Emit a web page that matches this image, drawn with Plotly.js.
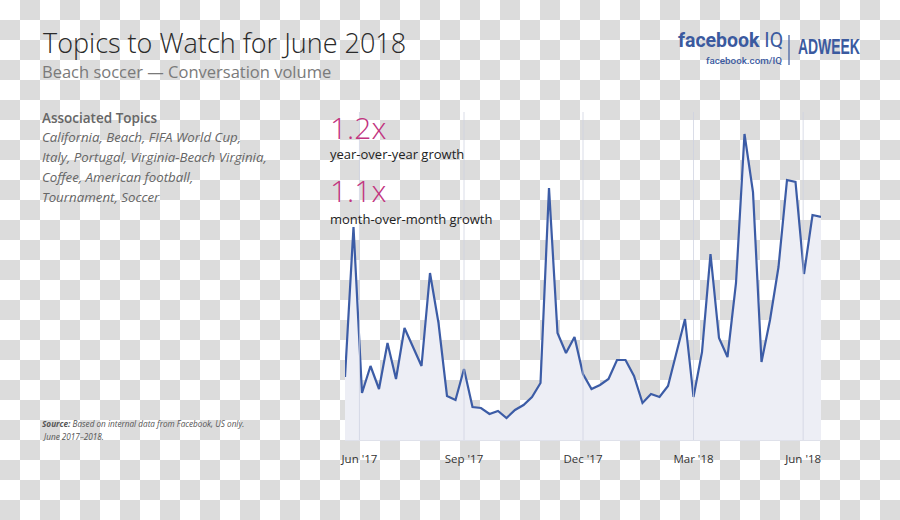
<!DOCTYPE html>
<html>
<head>
<meta charset="utf-8">
<script src="https://cdn.plot.ly/plotly-3.0.1.min.js"></script>
<style>
  html, body { margin: 0; padding: 0; background: #fff; }
  #chart { width: 900px; height: 520px; }
</style>
</head>
<body>
<div id="chart"></div>
<script>
// Weekly conversation volume (relative index), June 2017 – June 2018
const volume = [63, 213, 47, 74, 51, 97, 61, 112, 93, 74,
                167, 117, 44, 40, 71, 33, 32, 26, 29, 22,
                30, 35, 43, 57, 252, 107, 87, 103, 66, 51,
                55, 61, 80, 80, 64, 37, 46, 43, 54, 87,
                121, 43, 88, 186, 102, 83, 157, 306, 248, 78,
                120, 173, 260, 258, 166, 225, 223];
const weekIndex = volume.map((_, i) => i);

const tickLabels = ["Jun '17", "Sep '17", "Dec '17", "Mar '18", "Jun '18"];
const tickWeeks = [1.7, 14, 28, 41, 53.9];

const topicsHeader = "Associated Topics";
const topicLines = ["California, Beach, FIFA World Cup,",
                    "Italy, Portugal, Virginia-Beach Virginia,",
                    "Coffee, American football,",
                    "Tournament, Soccer"];
const growthValues = ["1.2x", "1.1x"];
const growthLabels = ["year-over-year growth", "month-over-month growth"];

// plot-area geometry (pixels)
const L = 345, R = 79, T = 112, B = 80, W = 900 - L - R, H = 520 - T - B;
const px = x => (x - L) / W;
const py = y => (520 - B - y) / H;

const FONT = "Open Sans, Noto Sans, sans-serif";
const ann = [];
function txt(x, y, text, font, extra) {
  ann.push(Object.assign({
    xref: 'paper', yref: 'paper', x: px(x), y: py(y), text: text,
    showarrow: false, xanchor: 'left', yanchor: 'middle',
    font: Object.assign({ family: FONT }, font)
  }, extra || {}));
}

txt(41, 42, "Topics to Watch for June 2018", { size: 27, color: '#2a2a2a', weight: 300 });
txt(40, 71, "Beach soccer — Conversation volume", { size: 16.5, color: '#7a7a7a' });
txt(40, 118, topicsHeader, { size: 13.5, color: '#666', weight: 600 });
topicLines.forEach((t, i) => txt(40, 137 + i * 20, t, { size: 13.3, color: '#666', style: 'italic' }));
txt(40, 423, "<b>Source:</b> Based on internal data from Facebook, US only.", { size: 8.2, color: '#555', style: 'italic' });
txt(40, 436, "June 2017–2018.", { size: 8.2, color: '#555', style: 'italic' });

growthValues.forEach((g, i) => {
  txt(328, 127 + i * 63, g, { size: 30, color: '#c2347f', weight: 300 });
  txt(328, 154 + i * 65, growthLabels[i], { size: 13, color: '#222' });
});

// logo
txt(676, 40, "<b>facebook</b> IQ", { family: "Roboto, sans-serif", size: 19.5, color: '#3b5a9f' });
txt(704, 61, "facebook.com/IQ", { family: "Roboto, sans-serif", size: 9.8, color: '#3b5a9f', weight: 500 });
txt(829, 47, "ADWEEK", { family: "Liberation Sans, Arial, sans-serif", size: 22, color: '#3b5a9f', weight: 700 }, { xanchor: 'center' });

// checkerboard backdrop (transparent-canvas pattern of the reference)
const shapes = [];
for (let r = 0; r < 26; r++) {
  for (let c = 0; c < 45; c++) {
    if ((r + c) % 2 === 1) {
      shapes.push({
        type: 'rect', xref: 'paper', yref: 'paper',
        x0: px(c * 20), x1: px(c * 20 + 20), y0: py(r * 20 + 20), y1: py(r * 20),
        fillcolor: '#dcdcdc', line: { width: 0 }, layer: 'below'
      });
    }
  }
}
tickWeeks.forEach(t => shapes.push({
  type: 'line', xref: 'x', yref: 'paper', x0: t, x1: t, y0: 0, y1: 1,
  layer: 'above', line: { color: 'rgba(205,210,224,0.75)', width: 1 }
}));
shapes.push({
  type: 'line', xref: 'paper', yref: 'paper', x0: px(789), x1: px(789), y0: py(35), y1: py(65),
  line: { color: '#3b5a9f', width: 1.2 }
});

const data = [{
  x: weekIndex, y: volume, type: 'scatter', mode: 'lines',
  fill: 'tozeroy', fillcolor: '#edeef5',
  line: { color: '#3c5ca6', width: 2.2 }, hoverinfo: 'skip'
}];

const layout = {
  width: 900, height: 520,
  margin: { l: L, r: R, t: T, b: B },
  paper_bgcolor: '#ffffff', plot_bgcolor: 'rgba(0,0,0,0)',
  showlegend: false,
  xaxis: {
    range: [0, 56], tickmode: 'array', tickvals: tickWeeks, ticktext: tickLabels,
    showgrid: false, zeroline: false, showline: true, linecolor: '#dfe1ea', linewidth: 1,
    ticks: '', tickfont: { family: FONT, size: 11.5, color: '#333' }, ticklabelstandoff: 8, fixedrange: true
  },
  yaxis: { range: [0, 328], visible: false, fixedrange: true },
  annotations: ann,
  shapes: shapes
};

Plotly.newPlot('chart', data, layout, { staticPlot: true, displayModeBar: false }).then(gd => {
  // condense the ADWEEK wordmark
  gd.querySelectorAll('.annotation-text').forEach(t => {
    if (t.textContent === 'ADWEEK') {
      t.setAttribute('textLength', '62');
      t.setAttribute('lengthAdjust', 'spacingAndGlyphs');
    }
  });
});
</script>
</body>
</html>
